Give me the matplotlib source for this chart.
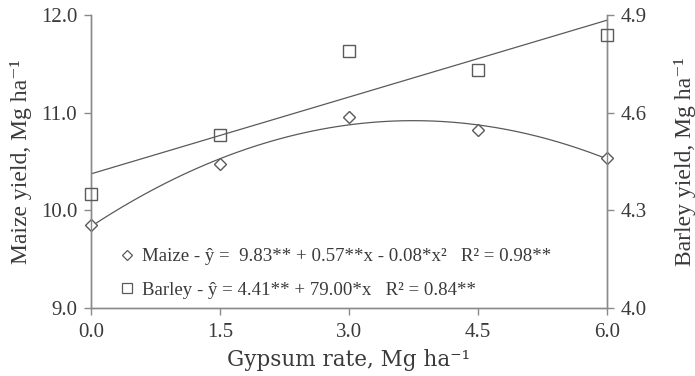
import numpy as np
import matplotlib
matplotlib.use("Agg")
import matplotlib.pyplot as plt
from matplotlib.lines import Line2D

# gypsum rates (Mg/ha)
gypsum = [0.0, 1.5, 3.0, 4.5, 6.0]
# yields
maize = [9.85, 10.47, 10.96, 10.82, 10.54]
barley = [4.35, 4.53, 4.79, 4.73, 4.84]

xticks = [0.0, 1.5, 3.0, 4.5, 6.0]
maize_ticks = [9.0, 10.0, 11.0, 12.0]
barley_ticks = [4.0, 4.3, 4.6, 4.9]

maize_label = "Maize - ŷ =  9.83** + 0.57**x - 0.08*x²   R² = 0.98**"
barley_label = "Barley - ŷ = 4.41** + 79.00*x   R² = 0.84**"

plt.rcParams['font.family'] = ['Liberation Serif', 'DejaVu Serif']
text_c = '#3a3a3a'
axis_c = '#8a8a8a'
line_c = '#5a5a5a'

fig = plt.figure(figsize=(6.95, 3.76), dpi=100)
ax = fig.add_axes([91 / 695, 1 - 308 / 376, 516 / 695, 293 / 376])
ax2 = ax.twinx()

# fitted curves
xs = np.linspace(0, 6, 200)
mfit = np.polyfit(gypsum, maize, 2)
bfit = np.polyfit(gypsum, barley, 1)
ax.plot(xs, np.polyval(mfit, xs), color=line_c, lw=0.9)
ax2.plot(xs, np.polyval(bfit, xs), color=line_c, lw=0.9)

ax.plot(gypsum, maize, ls='none', marker='D', ms=6.5, mfc='white',
        mec=line_c, mew=1.0, clip_on=False, zorder=5)
ax2.plot(gypsum, barley, ls='none', marker='s', ms=8.5, mfc='none',
         mec=line_c, mew=1.0, clip_on=False, zorder=5)

ax.set_xlim(0, 6)
ax.set_ylim(9.0, 12.0)
ax2.set_ylim(4.0, 4.9)
ax.set_xticks(xticks)
ax.set_xticklabels([f'{v:.1f}' for v in xticks])
ax.set_yticks(maize_ticks)
ax.set_yticklabels([f'{v:.1f}' for v in maize_ticks])
ax2.set_yticks(barley_ticks)
ax2.set_yticklabels([f'{v:.1f}' for v in barley_ticks])

for a in (ax, ax2):
    for side in a.spines:
        a.spines[side].set_color(axis_c)
        a.spines[side].set_linewidth(1.0)
    a.spines['top'].set_visible(False)
    a.tick_params(colors=axis_c, labelcolor=text_c, labelsize=15,
                  length=5, width=1.0, direction='out')
ax.tick_params(axis='x', pad=6)
ax.tick_params(axis='y', pad=5)
ax2.tick_params(axis='y', pad=5)

ax.set_ylabel("Maize yield, Mg ha⁻¹", fontsize=17, color=text_c, labelpad=6)
ax2.set_ylabel("Barley yield, Mg ha⁻¹", fontsize=17, color=text_c, labelpad=19)
ax.set_xlabel("Gypsum rate, Mg ha⁻¹", fontsize=15.5, color=text_c,
              family=['DejaVu Serif'], labelpad=5)

handles = [
    Line2D([], [], ls='none', marker='D', ms=5, mfc='white', mec=line_c, mew=0.9),
    Line2D([], [], ls='none', marker='s', ms=7.5, mfc='white', mec=line_c, mew=0.9),
]
leg = ax.legend(handles, [maize_label, barley_label], loc='lower left',
                bbox_to_anchor=(0.04, 0.006), frameon=False, fontsize=13.6,
                handlelength=0.8, handletextpad=0.4, labelspacing=0.85,
                borderaxespad=0)
for t in leg.get_texts():
    t.set_color(text_c)

fig.savefig('out.png', dpi=100)
